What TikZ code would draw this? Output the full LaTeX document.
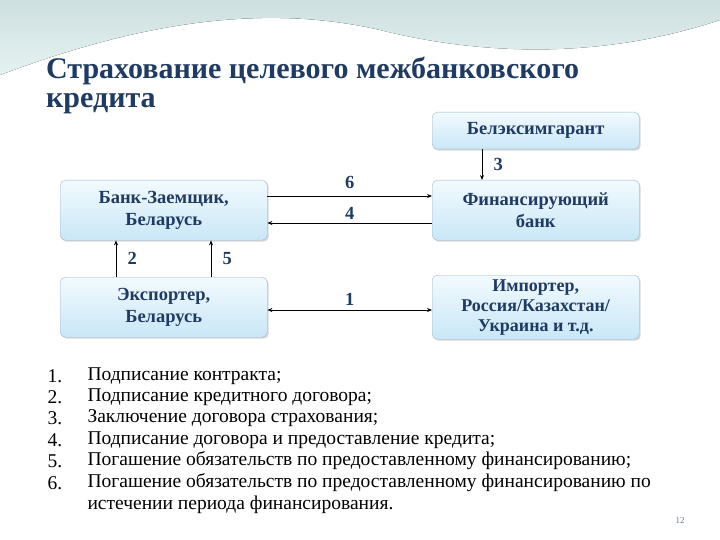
\documentclass[tikz,border=0pt]{standalone}
\usepackage{fontspec}
\setmainfont{Liberation Serif}
\usetikzlibrary{arrows.meta,shadows}
\definecolor{ttl}{HTML}{1F3B63}
\definecolor{bxtop}{HTML}{F2FAFE}
\definecolor{bxbot}{HTML}{C9E7F7}
\definecolor{bxline}{HTML}{9FB8CC}
\tikzset{
  bx/.style={draw=bxline, rounded corners=5pt, top color=bxtop, bottom color=bxbot,
    drop shadow={shadow xshift=1.5pt,shadow yshift=-1.5pt,opacity=0.3},
    text=ttl, font=\fontsize{18.5}{22}\selectfont\bfseries, align=center, anchor=north west, inner sep=1pt},
  lbl/.style={text=ttl, font=\fontsize{18.5}{22}\selectfont\bfseries},
  ar/.style={-{Stealth[length=5pt,width=4pt]}, line width=0.8pt},
  li/.style={anchor=west, font=\fontsize{19.5}{22}\selectfont},
  ttlnode/.style={anchor=west, text=ttl, inner sep=0pt, font=\fontsize{30}{34}\selectfont\bfseries}
}
\begin{document}
\begin{tikzpicture}[x=1pt,y=-1pt]
\useasboundingbox (0,0) rectangle (720,540);
% background wave
\fill[top color=gray!45!teal!25, bottom color=teal!10!white] (0,0) -- (720,0) -- (720,20)
  .. controls (600,60) and (480,55) .. (380,30) .. controls (250,0) and (120,30) .. (0,75) -- cycle;
\fill[white] (0,78) .. controls (120,40) and (250,10) .. (380,35) .. controls (500,60) and (620,60) .. (720,25) -- (720,30) .. controls (620,65) and (500,68) .. (380,42) .. controls (250,18) and (120,48) .. (0,85) -- cycle;
\node[ttlnode] (t1) at (46,71) {Страхование целевого межбанковского};
\node[ttlnode] (t2) at (46,104) {кредита};
% boxes
\node[bx, minimum width=207pt, minimum height=37pt] (bel) at (432,112) {Белэксимгарант};
\node[bx, minimum width=207pt, minimum height=60pt] (bz) at (60,180) {Банк-Заемщик,\\Беларусь};
\node[bx, minimum width=207pt, minimum height=60pt] (fb) at (432,180) {Финансирующий\\банк};
\node[bx, minimum width=207pt, minimum height=60pt] (ex) at (60,277) {Экспортер,\\Беларусь};
\node[bx, minimum width=207pt, minimum height=64pt, font=\fontsize{18}{20}\selectfont\bfseries] (im) at (432,275) {Импортер,\\Россия/Казахстан/\\Украина и т.д.};
% arrows
\draw[ar] (bz.east |- 0,196) -- (fb.west |- 0,196) node[lbl, midway, above=4pt] (n6) {6};
\draw[ar] (fb.west |- 0,223) -- (bz.east |- 0,223) node[lbl, midway, above=0pt] (n4) {4};
\draw[ar] (bel.south -| 482,0) -- (fb.north -| 482,0) node[lbl, midway, right=8pt] (n3) {3};
\draw[ar] (ex.north -| 116,0) -- (bz.south -| 116,0) node[lbl, midway, right=8pt] (n2) {2};
\draw[ar] (ex.north -| 211,0) -- (bz.south -| 211,0) node[lbl, midway, right=8pt] (n5) {5};
\draw[ar, {Stealth[length=5pt,width=4pt]}-{Stealth[length=5pt,width=4pt]}] (ex.east |- 0,310) -- (im.west |- 0,310) node[lbl, midway, above=1pt] (n1) {1};
% list
\foreach \i/\y/\t in {1/376/{Подписание контракта;},
  2/397/{Подписание кредитного договора;},
  3/418/{Заключение договора страхования;},
  4/440/{Подписание договора и предоставление кредита;},
  5/461/{Погашение обязательств по предоставленному финансированию;},
  6/483/{Погашение обязательств по предоставленному финансированию по}} {
  \node[li] (num\i) at (44,\y) {\i.};
  \node[li] (it\i) at (84,\y) {\t};
}
\node[li] (it7) at (84,505) {истечении периода финансирования.};
\node[text=ttl!70, font=\fontsize{9}{10}\selectfont] (pg) at (680,521) {12};
\end{tikzpicture}
\end{document}
